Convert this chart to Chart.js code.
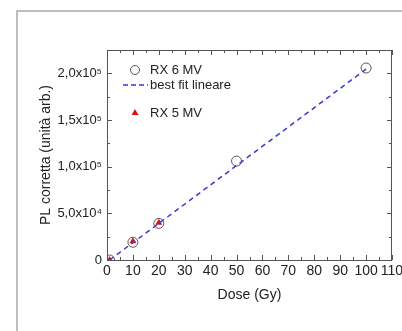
<!DOCTYPE html>
<html>
<head>
<meta charset="utf-8">
<script src="https://cdn.jsdelivr.net/npm/chart.js@4.4.1/dist/chart.umd.min.js"></script>
<style>
html,body{margin:0;padding:0;background:#fff;}
#wrap{width:402px;height:331px;position:relative;}
</style>
</head>
<body>
<div id="wrap"><canvas id="c"></canvas></div>
<script>
// ---- data ----
const rx6Dose = [1, 10, 20, 50, 100];
const rx6PL = [0, 19000, 39200, 106000, 205700];
const rx5Dose = [1, 10, 20];
const rx5PL = [0, 20000, 40000];
const fitDose = [1, 100];
const fitPL = [0, 204500];
const seriesLabels = ['RX 6 MV', 'best fit lineare', 'RX 5 MV'];
const yTickLabels = {0: '0', 50000: '5,0x10\u2074', 100000: '1,0x10\u2075', 150000: '1,5x10\u2075', 200000: '2,0x10\u2075'};
const xTitle = 'Dose (Gy)';
const yTitle = 'PL corretta (unità arb.)';

const FONT = "'Liberation Sans', Arial, sans-serif";
const AXIS = '#555';

const toPts = (xs, ys) => xs.map((x, i) => ({x: x, y: ys[i]}));

const framePlugin = {
  id: 'frame',
  beforeDraw(chart) {
    const ctx = chart.ctx;
    ctx.save();
    ctx.strokeStyle = '#a8a8a8';
    ctx.lineWidth = 1.5;
    ctx.beginPath();
    ctx.moveTo(17, 331);
    ctx.lineTo(17, 11);
    ctx.lineTo(402, 11);
    ctx.stroke();
    ctx.restore();
  }
};

const ticksPlugin = {
  id: 'boxticks',
  afterDraw(chart) {
    const ctx = chart.ctx;
    const a = chart.chartArea;
    const xs = chart.scales.x, ys = chart.scales.y;
    ctx.save();
    ctx.strokeStyle = AXIS;
    ctx.lineWidth = 1;
    ctx.strokeRect(a.left + 0.5, a.top + 0.5, a.right - a.left - 1, a.bottom - a.top);
    ctx.beginPath();
    for (let v = 0; v <= 110; v += 5) {
      const p = Math.round(xs.getPixelForValue(v)) + 0.5;
      const L = (v % 10 === 0) ? 5 : 3;
      ctx.moveTo(p, a.bottom); ctx.lineTo(p, a.bottom - L);
      ctx.moveTo(p, a.top); ctx.lineTo(p, a.top + L);
    }
    for (let v = 0; v <= 225000; v += 25000) {
      const p = Math.round(ys.getPixelForValue(v)) + 0.5;
      const L = (v % 50000 === 0) ? 5 : 3;
      ctx.moveTo(a.left, p); ctx.lineTo(a.left + L, p);
      ctx.moveTo(a.right, p); ctx.lineTo(a.right - L, p);
    }
    ctx.stroke();
    ctx.restore();
  }
};

const legendPlugin = {
  id: 'innerLegend',
  afterDatasetsDraw(chart) {
    const ctx = chart.ctx;
    const ds = chart.data.datasets;
    ctx.save();
    ctx.font = '13px ' + FONT;
    ctx.fillStyle = '#222';
    ctx.textBaseline = 'middle';
    ctx.textAlign = 'left';
    // RX 6 MV
    ctx.strokeStyle = ds[0].borderColor;
    ctx.lineWidth = 1;
    ctx.beginPath(); ctx.arc(135, 70, 4.5, 0, Math.PI * 2); ctx.stroke();
    ctx.fillText(ds[0].label, 150, 70);
    // fit
    ctx.strokeStyle = ds[2].borderColor;
    ctx.lineWidth = 1.5;
    ctx.setLineDash([5, 3]);
    ctx.beginPath(); ctx.moveTo(123, 85); ctx.lineTo(148, 85); ctx.stroke();
    ctx.setLineDash([]);
    ctx.fillText(ds[2].label, 150, 85);
    // RX 5 MV
    ctx.fillStyle = ds[1].backgroundColor;
    ctx.beginPath(); ctx.moveTo(135, 109); ctx.lineTo(138.5, 115); ctx.lineTo(131.5, 115); ctx.closePath(); ctx.fill();
    ctx.fillStyle = '#222';
    ctx.fillText(ds[1].label, 150, 113);
    ctx.restore();
  }
};

new Chart(document.getElementById('c'), {
  type: 'scatter',
  data: {
    datasets: [
      {label: seriesLabels[0], data: toPts(rx6Dose, rx6PL), pointStyle: 'circle', pointRadius: 5,
       borderColor: '#555', backgroundColor: 'rgba(0,0,0,0)', borderWidth: 1, order: 3},
      {label: seriesLabels[2], data: toPts(rx5Dose, rx5PL), pointStyle: 'triangle', pointRadius: 4,
       borderColor: '#e01010', backgroundColor: '#e01010', borderWidth: 0, order: 2},
      {label: seriesLabels[1], type: 'line', data: toPts(fitDose, fitPL), showLine: true, pointRadius: 0,
       borderColor: '#3a3acf', borderWidth: 1.5, borderDash: [5, 4], fill: false, order: 1}
    ]
  },
  options: {
    responsive: true,
    maintainAspectRatio: false,
    animation: false,
    events: [],
    layout: {padding: {left: 38, top: 50, right: 10, bottom: 27}},
    plugins: {legend: {display: false}, tooltip: {enabled: false}},
    scales: {
      x: {
        type: 'linear', min: 0, max: 110,
        grid: {display: false, drawTicks: false},
        border: {display: false},
        ticks: {stepSize: 10, font: {family: FONT, size: 14}, color: '#222', padding: 3, maxRotation: 0, autoSkip: false},
        title: {display: true, text: xTitle, font: {family: FONT, size: 14}, color: '#222', padding: 0},
        afterFit(s) { s.height = 44; s.paddingLeft = 0; s.paddingRight = 0; }
      },
      y: {
        type: 'linear', min: 0, max: 225000,
        grid: {display: false, drawTicks: false},
        border: {display: false},
        ticks: {stepSize: 25000, font: {family: FONT, size: 13}, color: '#222', padding: 5, autoSkip: false,
          callback: (v) => (yTickLabels[v] !== undefined ? yTickLabels[v] : '')},
        title: {display: true, text: yTitle, font: {family: FONT, size: 14}, color: '#222', padding: 0},
        afterFit(s) { s.width = 69; s.paddingTop = 0; s.paddingBottom = 0; }
      }
    }
  },
  plugins: [framePlugin, ticksPlugin, legendPlugin]
});
</script>
</body>
</html>
